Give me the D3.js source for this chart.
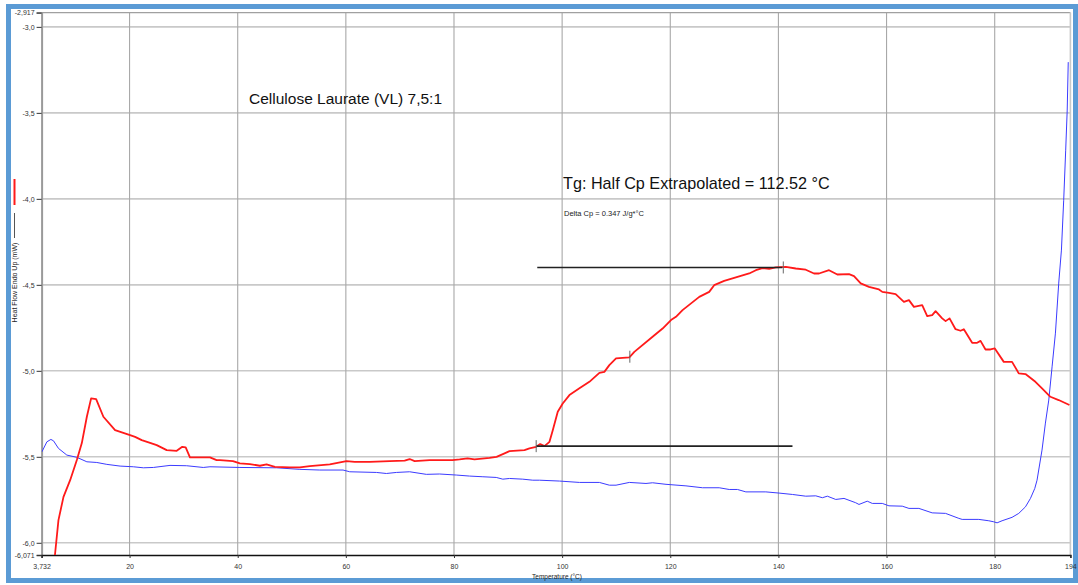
<!DOCTYPE html>
<html>
<head>
<meta charset="utf-8">
<script src="https://cdn.jsdelivr.net/npm/d3@7"></script>
<style>
  html, body { margin: 0; padding: 0; background: #ffffff; }
  svg { display: block; font-family: "Liberation Sans", Arial, sans-serif; }
</style>
</head>
<body>
<svg id="chart" width="1078" height="585"></svg>
<script>
// Temperature scan (°C) and heat flow (mW), heating run (red)
const heatTemp = [6.2, 6.85, 7.78, 9.01, 10.25, 11.17, 12.10, 12.89, 13.82, 15.16, 17.32, 20.09, 21.02, 22.25, 23.79, 25.02, 26.87, 28.72, 29.75, 30.38, 31.17, 33.02, 34.87, 36.10, 36.72, 39.12, 40.41, 42.25, 44.10, 45.34, 46.87, 49.64, 51.49, 53.33, 57.03, 60.11, 61.65, 64.42, 68.11, 70.88, 71.80, 72.72, 75.50, 79.74, 81.04, 82.51, 83.80, 86.58, 87.87, 89.35, 90.27, 93.04, 93.96, 95.20, 95.94, 96.73, 97.66, 98.27, 99.19, 100.11, 101.35, 103.20, 105.04, 106.89, 107.81, 108.73, 109.97, 112.43, 113.35, 116.73, 118.58, 120.13, 121.05, 122.27, 125.36, 127.20, 128.12, 129.97, 132.13, 134.59, 135.83, 137.05, 138.29, 139.52, 141.37, 143.21, 145.06, 146.59, 147.51, 149.36, 150.90, 153.06, 153.98, 155.22, 156.75, 158.60, 159.21, 160.44, 161.68, 163.21, 164.14, 165.06, 166.59, 167.52, 168.44, 169.07, 170.29, 170.92, 171.65, 172.76, 173.68, 174.29, 175.83, 176.75, 177.38, 178.30, 179.22, 180.02, 181.68, 183.21, 184.45, 185.69, 187.53, 188.75, 190.30, 191.83, 193.82];
const heatFlow = [-6.071, -5.868, -5.733, -5.636, -5.519, -5.420, -5.267, -5.160, -5.165, -5.267, -5.345, -5.374, -5.384, -5.403, -5.419, -5.432, -5.461, -5.465, -5.442, -5.445, -5.503, -5.503, -5.503, -5.519, -5.519, -5.525, -5.538, -5.542, -5.552, -5.544, -5.558, -5.562, -5.562, -5.554, -5.544, -5.525, -5.529, -5.529, -5.525, -5.522, -5.513, -5.525, -5.519, -5.519, -5.515, -5.509, -5.515, -5.506, -5.500, -5.480, -5.467, -5.461, -5.451, -5.442, -5.426, -5.438, -5.413, -5.345, -5.238, -5.190, -5.141, -5.102, -5.064, -5.012, -5.006, -4.967, -4.928, -4.922, -4.890, -4.802, -4.754, -4.705, -4.686, -4.647, -4.570, -4.541, -4.502, -4.477, -4.457, -4.434, -4.415, -4.403, -4.407, -4.399, -4.395, -4.405, -4.412, -4.434, -4.434, -4.415, -4.440, -4.438, -4.449, -4.492, -4.512, -4.527, -4.541, -4.547, -4.554, -4.599, -4.589, -4.628, -4.618, -4.682, -4.676, -4.653, -4.695, -4.711, -4.695, -4.758, -4.767, -4.758, -4.837, -4.837, -4.826, -4.876, -4.876, -4.870, -4.948, -4.948, -5.015, -5.019, -5.064, -5.102, -5.151, -5.170, -5.199];

// Second run (blue)
const runTemp = [3.79, 4.71, 5.45, 5.93, 6.85, 8.40, 10.25, 12.10, 13.94, 15.79, 18.25, 20.70, 22.55, 24.40, 27.48, 30.56, 33.63, 34.87, 40.41, 47.19, 51.49, 55.18, 59.48, 60.72, 65.65, 67.50, 69.35, 71.80, 74.89, 77.34, 80.42, 82.88, 85.34, 87.81, 89.03, 90.27, 92.72, 94.57, 95.81, 99.50, 103.20, 106.89, 108.73, 109.97, 112.43, 115.51, 116.73, 119.21, 122.90, 125.97, 129.05, 130.90, 132.43, 133.98, 137.67, 140.13, 142.59, 145.06, 146.91, 148.13, 149.05, 150.60, 152.13, 154.29, 154.90, 156.43, 157.36, 159.21, 160.44, 162.90, 164.14, 165.98, 168.44, 170.91, 173.37, 173.98, 177.06, 178.91, 179.83, 180.44, 181.36, 183.21, 184.45, 185.69, 186.61, 187.41, 187.83, 188.75, 189.38, 190.00, 190.61, 191.23, 191.84, 192.34, 192.76, 193.13, 193.41, 193.60];
const runFlow = [-5.471, -5.413, -5.399, -5.407, -5.451, -5.490, -5.503, -5.529, -5.533, -5.544, -5.554, -5.558, -5.564, -5.562, -5.550, -5.552, -5.562, -5.558, -5.562, -5.564, -5.573, -5.577, -5.577, -5.587, -5.591, -5.597, -5.591, -5.587, -5.602, -5.600, -5.606, -5.612, -5.616, -5.620, -5.630, -5.626, -5.630, -5.636, -5.636, -5.641, -5.649, -5.649, -5.665, -5.665, -5.649, -5.655, -5.651, -5.660, -5.669, -5.680, -5.680, -5.690, -5.690, -5.704, -5.704, -5.711, -5.719, -5.729, -5.727, -5.738, -5.729, -5.748, -5.742, -5.767, -5.777, -5.758, -5.771, -5.771, -5.785, -5.787, -5.800, -5.800, -5.826, -5.829, -5.858, -5.864, -5.864, -5.872, -5.878, -5.884, -5.872, -5.852, -5.829, -5.791, -5.742, -5.684, -5.636, -5.461, -5.304, -5.170, -4.977, -4.781, -4.490, -4.298, -4.008, -3.717, -3.484, -3.205];

// Axis ticks and their printed labels
const xTicks = [3.732, 20, 40, 60, 80, 100, 120, 140, 160, 180, 194];
const xTickLabels = ["3,732", "20", "40", "60", "80", "100", "120", "140", "160", "180", "194"];
const yTicks = [-2.917, -3.0, -3.5, -4.0, -4.5, -5.0, -5.5, -6.0, -6.071];
const yTickLabels = ["-2,917", "-3,0", "-3,5", "-4,0", "-4,5", "-5,0", "-5,5", "-6,0", "-6,071"];
const xGrid = [20, 40, 60, 80, 100, 120, 140, 160, 180];
const yGrid = [-3.0, -3.5, -4.0, -4.5, -5.0, -5.5, -6.0];

// Glass transition analysis
const tgValue = 112.52;
const deltaCp = 0.347;
const baselineUpper = { t0: 95.4, t1: 140.7, v: -4.399 };
const baselineLower = { t0: 95.2, t1: 142.6, v: -5.438 };
const markers = [[95.2, -5.438], [112.52, -4.918], [140.9, -4.399]];

const svg = d3.select("#chart");

// Outer frame
svg.append("rect")
  .attr("x", 8.5).attr("y", 6.5).attr("width", 1067).attr("height", 574)
  .attr("fill", "#ffffff").attr("stroke", "#5b9bd5").attr("stroke-width", 5);

const x = d3.scaleLinear().domain([3.732, 194]).range([41.6, 1070.4]);
const y = d3.scaleLinear().domain([-2.917, -6.071]).range([12.6, 555]);

const [x0, x1] = x.range();
const [y0, y1] = y.range();

// Grid
svg.append("g").selectAll("line").data(yGrid).join("line")
  .attr("x1", x0).attr("x2", x1)
  .attr("y1", d => y(d)).attr("y2", d => y(d))
  .attr("stroke", "#c9c9c9").attr("stroke-width", 1.6);
svg.append("g").selectAll("line").data(xGrid).join("line")
  .attr("x1", d => x(d)).attr("x2", d => x(d))
  .attr("y1", y0).attr("y2", y1)
  .attr("stroke", "#a8a8a8").attr("stroke-width", 1.1);

// Plot border (top and right)
svg.append("line").attr("x1", x0).attr("x2", x1).attr("y1", y0).attr("y2", y0)
  .attr("stroke", "#a0a0a0").attr("stroke-width", 1.2);
svg.append("line").attr("x1", x1).attr("x2", x1).attr("y1", y0).attr("y2", y1)
  .attr("stroke", "#c9c9c9").attr("stroke-width", 1.6);

// Axes
const yAxis = d3.axisLeft(y).tickValues(yTicks)
  .tickFormat((d, i) => yTickLabels[i]).tickSize(5).tickPadding(2);
const gy = svg.append("g").attr("transform", `translate(${x0},0)`).call(yAxis);
gy.select(".domain").attr("stroke", "#9a9a9a").attr("stroke-width", 2);
gy.selectAll(".tick line").attr("stroke", "#333").attr("stroke-width", 1);
gy.selectAll(".tick text").attr("fill", "#333").style("font-size", "7px")
  .style("font-family", "'Liberation Sans', Arial, sans-serif");

const xAxis = d3.axisBottom(x).tickValues(xTicks)
  .tickFormat((d, i) => xTickLabels[i]).tickSize(3).tickPadding(6);
const gx = svg.append("g").attr("transform", `translate(0,${y1})`).call(xAxis);
gx.select(".domain").attr("stroke", "#111").attr("stroke-width", 1.4);
gx.selectAll(".tick line").attr("stroke", "#333");
gx.selectAll(".tick text").attr("fill", "#333").style("font-size", "7px")
  .style("font-family", "'Liberation Sans', Arial, sans-serif");

// Curves
const clip = svg.append("clipPath").attr("id", "plot-clip")
  .append("rect").attr("x", x0).attr("y", y0 - 1).attr("width", x1 - x0).attr("height", y1 - y0 + 1);

const line = d3.line().x(d => x(d[0])).y(d => y(d[1]));

svg.append("path")
  .datum(d3.zip(runTemp, runFlow))
  .attr("clip-path", "url(#plot-clip)")
  .attr("fill", "none").attr("stroke", "#3b3bff").attr("stroke-width", 1)
  .attr("d", line);

svg.append("path")
  .datum(d3.zip(heatTemp, heatFlow))
  .attr("clip-path", "url(#plot-clip)")
  .attr("fill", "none").attr("stroke", "#ff1a1a").attr("stroke-width", 1.8)
  .attr("stroke-linejoin", "round")
  .attr("d", line);

// Tangent baselines and analysis markers
[baselineUpper, baselineLower].forEach(b => {
  svg.append("line")
    .attr("x1", x(b.t0)).attr("x2", x(b.t1))
    .attr("y1", y(b.v)).attr("y2", y(b.v))
    .attr("stroke", "#222").attr("stroke-width", 1.6);
});
svg.append("g").selectAll("line").data(markers).join("line")
  .attr("x1", d => x(d[0])).attr("x2", d => x(d[0]))
  .attr("y1", d => y(d[1]) - 6).attr("y2", d => y(d[1]) + 6)
  .attr("stroke", "#666").attr("stroke-width", 1);

// Texts
svg.append("text").attr("x", 249).attr("y", 104)
  .style("font-size", "15.5px").attr("fill", "#111")
  .text("Cellulose Laurate (VL) 7,5:1");

svg.append("text").attr("x", 563).attr("y", 189)
  .style("font-size", "16.2px").attr("fill", "#111")
  .text(`Tg: Half Cp Extrapolated = ${tgValue.toFixed(2)} °C`);

svg.append("text").attr("x", 564).attr("y", 216)
  .style("font-size", "7.5px").attr("fill", "#222")
  .text(`Delta Cp = ${deltaCp.toFixed(3)} J/g*°C`);

svg.append("text")
  .attr("transform", "translate(17,282.5) rotate(-90)")
  .attr("text-anchor", "middle")
  .style("font-size", "7px").attr("fill", "#222")
  .text("Heat Flow Endo Up (mW)");

svg.append("text").attr("x", 557).attr("y", 579)
  .attr("text-anchor", "middle")
  .style("font-size", "6.5px").attr("fill", "#222")
  .text("Temperature (°C)");

// Legend swatches beside the y-axis title
svg.append("line").attr("x1", 14.5).attr("x2", 14.5).attr("y1", 179).attr("y2", 205)
  .attr("stroke", "#ff1a1a").attr("stroke-width", 2);
svg.append("line").attr("x1", 14.5).attr("x2", 14.5).attr("y1", 213).attr("y2", 238)
  .attr("stroke", "#555").attr("stroke-width", 1);
</script>
</body>
</html>
